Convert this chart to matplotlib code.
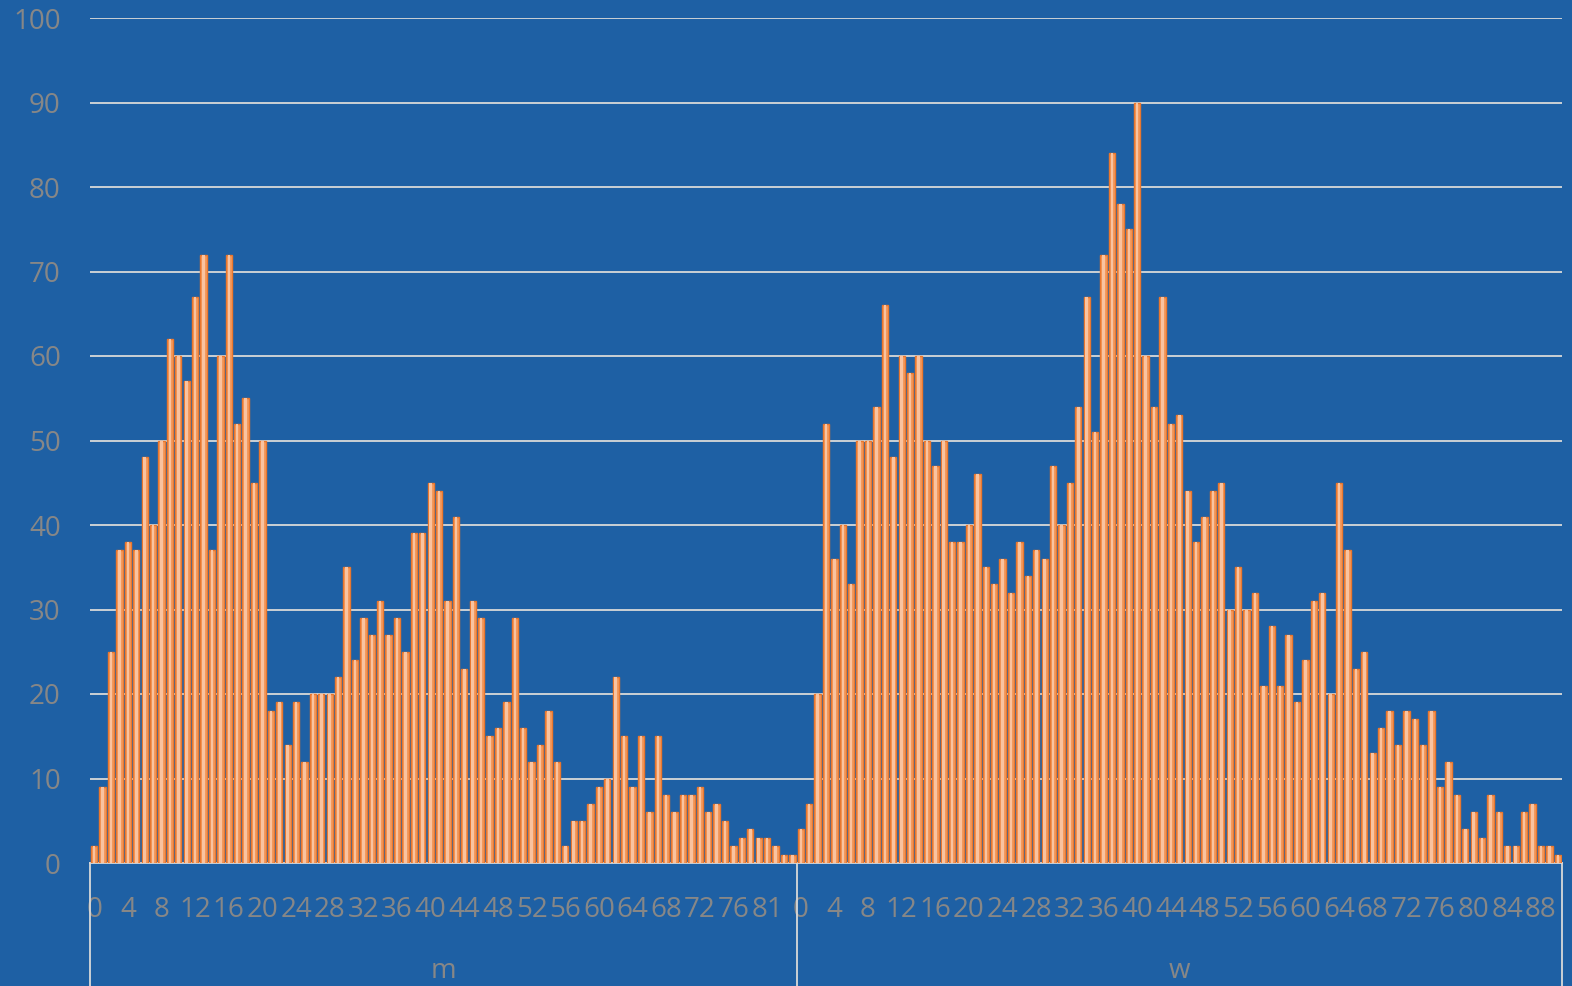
import numpy as np
import matplotlib
matplotlib.use("Agg")
import matplotlib.pyplot as plt
import matplotlib.transforms as mtransforms

# ages (category labels) per group, age 80 is missing for m
m_ages = list(range(0, 80)) + [81, 82, 83, 84]
w_ages = list(range(0, 91))

m_counts = [2, 9, 25, 37, 38, 37, 48, 40, 50, 62,
            60, 57, 67, 72, 37, 60, 72, 52, 55, 45,
            50, 18, 19, 14, 19, 12, 20, 20, 20, 22,
            35, 24, 29, 27, 31, 27, 29, 25, 39, 39,
            45, 44, 31, 41, 23, 31, 29, 15, 16, 19,
            29, 16, 12, 14, 18, 12, 2, 5, 5, 7,
            9, 10, 22, 15, 9, 15, 6, 15, 8, 6,
            8, 8, 9, 6, 7, 5, 2, 3, 4, 3,
            3, 2, 1, 1]

w_counts = [4, 7, 20, 52, 36, 40, 33, 50, 50, 54,
            66, 48, 60, 58, 60, 50, 47, 50, 38, 38,
            40, 46, 35, 33, 36, 32, 38, 34, 37, 36,
            47, 40, 45, 54, 67, 51, 72, 84, 78, 75,
            90, 60, 54, 67, 52, 53, 44, 38, 41, 44,
            45, 30, 35, 30, 32, 21, 28, 21, 27, 19,
            24, 31, 32, 20, 45, 37, 23, 25, 13, 16,
            18, 14, 18, 17, 14, 18, 9, 12, 8, 4,
            6, 3, 8, 6, 2, 2, 6, 7, 2, 2,
            1]

groups = ["m", "w"]
y_ticks = list(range(0, 101, 10))

bg = "#1E60A4"
grey = "#878787"

plt.rcParams['font.family'] = ['Open Sans', 'DejaVu Sans']

fig = plt.figure(figsize=(15.72, 9.86), dpi=100)
fig.patch.set_facecolor(bg)
ax = fig.add_axes([90/1572, 123/986, 1472/1572, 845/986])
ax.set_facecolor(bg)

counts = m_counts + w_counts
labels = m_ages + w_ages
x = np.arange(len(counts))

# bars: darker outline, lighter stripe in the middle for the gradient look
ax.bar(x, counts, width=0.75, color="#F39A5E", edgecolor="#E9772E", linewidth=1.0, zorder=3)
ax.bar(x, counts, width=0.3, color="#F9C3A0", linewidth=0, zorder=4)

ax.set_xlim(-0.5, len(counts) - 0.5)
ax.set_ylim(0, 100)
ax.set_yticks(y_ticks)
ax.yaxis.grid(True, color="#D9D9D9", linewidth=1.3, zorder=0)
ax.set_axisbelow(True)
ax.tick_params(axis="y", length=0, pad=21, labelsize=20, labelcolor=grey)

tick_pos = []
tick_lab = []
start = 0
for ages in [m_ages, w_ages]:
    for i in range(0, len(ages), 4):
        tick_pos.append(start + i)
        tick_lab.append(str(ages[i]))
    start += len(ages)
ax.set_xticks(tick_pos)
ax.set_xticklabels(tick_lab)
ax.tick_params(axis="x", length=0, pad=24, labelsize=20, labelcolor=grey)

for s in ["top", "left", "right"]:
    ax.spines[s].set_visible(False)
ax.spines["bottom"].set_color("#D9D9D9")
ax.spines["bottom"].set_linewidth(1.3)

# group separators and group names under the ticks
trans = mtransforms.blended_transform_factory(ax.transData, ax.transAxes)
bounds = [-0.5, len(m_ages) - 0.5, len(counts) - 0.5]
for b in bounds:
    ax.plot([b, b], [0, -0.15], transform=trans, color="#D9D9D9", linewidth=1.3, clip_on=False)
centers = [(bounds[0] + bounds[1]) / 2, (bounds[1] + bounds[2]) / 2]
for c, g in zip(centers, groups):
    ax.text(c, -0.128, g, transform=trans, ha="center", va="center", fontsize=20, color=grey)

plt.savefig("out.png", facecolor=bg)
